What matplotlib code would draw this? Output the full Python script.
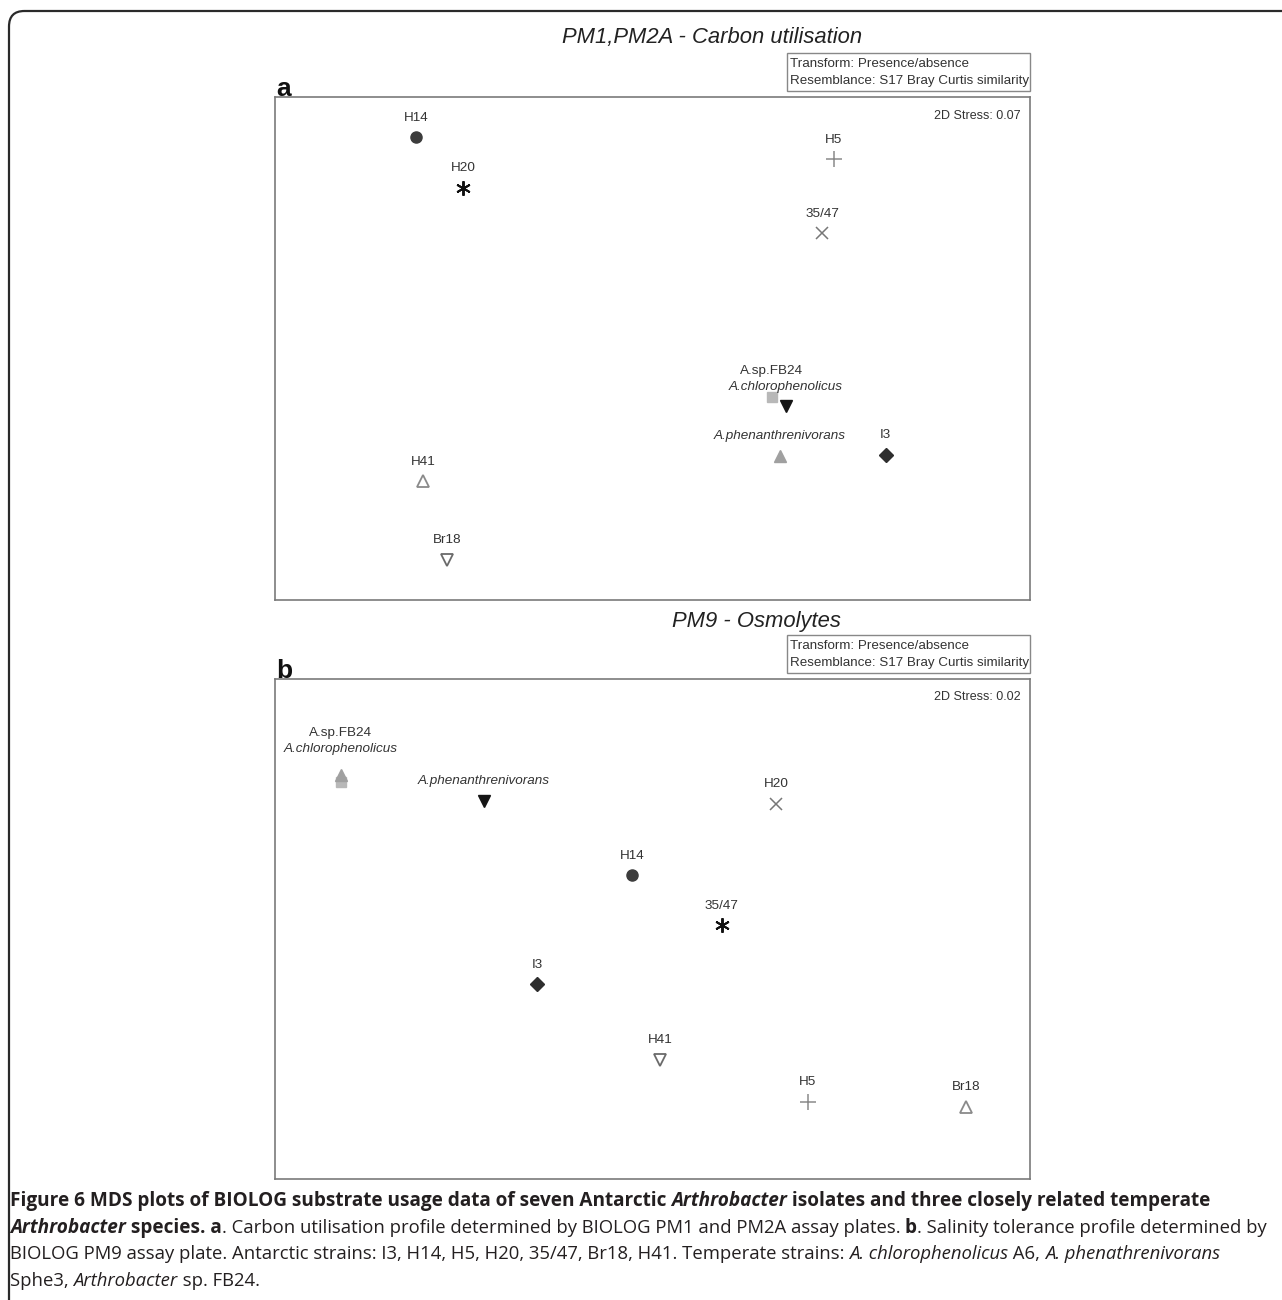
import matplotlib
matplotlib.use("Agg")
import matplotlib.pyplot as plt
from matplotlib.patches import FancyBboxPatch, Rectangle

W, H = 1282, 1300

# ---- data (MDS coordinates, axes span 0..100) ----
names_a = ["H14", "H20", "H5", "35/47", "A.sp.FB24", "A.chlorophenolicus",
           "A.phenanthrenivorans", "I3", "H41", "Br18"]
x_a = [18.7, 24.9, 74.0, 72.5, 65.8, 67.7, 66.9, 80.9, 19.6, 22.8]
y_a = [92.0, 82.0, 87.6, 72.9, 40.3, 38.5, 28.7, 28.9, 23.6, 8.0]
marks_a = ["circle", "asterisk", "plus", "cross", "square", "down",
           "up_grey", "diamond", "up_open", "down_open"]

names_b = ["A.sp.FB24", "A.chlorophenolicus", "A.phenanthrenivorans", "H20",
           "H14", "35/47", "I3", "H41", "H5", "Br18"]
x_b = [8.7, 8.7, 27.7, 66.4, 47.3, 59.2, 34.7, 51.0, 70.6, 91.5]
y_b = [79.4, 80.8, 75.7, 75.1, 60.8, 50.8, 39.0, 23.9, 15.5, 14.5]
marks_b = ["square", "up_grey", "down", "cross", "circle", "asterisk",
           "diamond", "down_open", "plus", "up_open"]

stress = ["2D Stress: 0.07", "2D Stress: 0.02"]
titles = ["PM1,PM2A - Carbon utilisation", "PM9 - Osmolytes"]
letters = ["a", "b"]

STYLES = {
    "circle":    dict(marker="o", ms=8, mfc="#3c3c3c", mec="#3c3c3c"),
    "asterisk":  dict(marker=(6, 2, 0), ms=10.5, mfc="#111", mec="#111", mew=1.4),
    "plus":      dict(marker="+", ms=12, mfc="#8a8a8a", mec="#8a8a8a", mew=1.1),
    "cross":     dict(marker="x", ms=8, mfc="#777", mec="#777", mew=1.1),
    "square":    dict(marker="s", ms=7, mfc="#b8b8b8", mec="#b8b8b8"),
    "down":      dict(marker="v", ms=9, mfc="#151515", mec="#151515"),
    "up_grey":   dict(marker="^", ms=9, mfc="#a0a0a0", mec="#a0a0a0"),
    "diamond":   dict(marker="D", ms=7.5, mfc="#2e2e2e", mec="#2e2e2e"),
    "up_open":   dict(marker="^", ms=9, mfc="white", mec="#8a8a8a", mew=1.3),
    "down_open": dict(marker="v", ms=9, mfc="white", mec="#6a6a6a", mew=1.3),
}

ITALIC = {"A.chlorophenolicus", "A.phenanthrenivorans"}

plt.rcParams["font.family"] = ["Liberation Sans", "DejaVu Sans"]
fig = plt.figure(figsize=(W / 100, H / 100), dpi=100)


def fx(px):
    return px / W


def fy(py):
    return 1 - py / H


# outer rounded frame (runs off the right and bottom edges)
frame = FancyBboxPatch((fx(9), fy(1330)), fx(1320), (1330 - 11) / H,
                       boxstyle="round,pad=0,rounding_size=0.012",
                       transform=fig.transFigure, fill=False,
                       ec="#2a2a2a", lw=1.6)
fig.patches.append(frame)


def panel(top, bottom, names, xs, ys, marks, offsets, title, title_x, title_y,
          letter, st, box_top, box_bot):
    ax = fig.add_axes([fx(275), fy(bottom), fx(1030) - fx(275),
                       (bottom - top) / H])
    ax.set_xlim(0, 100)
    ax.set_ylim(0, 100)
    ax.set_xticks([])
    ax.set_yticks([])
    for s in ax.spines.values():
        s.set_color("#7a7a7a")
        s.set_linewidth(1.2)
    for n, x, y, m in zip(names, xs, ys, marks):
        ax.plot([x], [y], ls="none", **STYLES[m])
        dy = offsets.get(n, 14)
        ax.annotate(n, (x, y), xytext=(0, dy), textcoords="offset points",
                    ha="center", va="center", fontsize=9.7,
                    color="#333", style="italic" if n in ITALIC else "normal")
    ax.text(0.987, 0.975, st, transform=ax.transAxes, ha="right", va="top",
            fontsize=9, color="#333")
    fig.text(fx(title_x), fy(title_y), title, ha="center", va="center",
             fontsize=15.8, style="italic", color="#222")
    fig.text(fx(276), fy(top - 1), letter, ha="left", va="baseline",
             fontsize=19, weight="bold", color="#111")
    fig.patches.append(Rectangle((fx(787), fy(box_bot)), fx(1030) - fx(787),
                                 (box_bot - box_top) / H,
                                 transform=fig.transFigure, fill=False,
                                 ec="#888", lw=1.0))
    h = box_bot - box_top
    fig.text(fx(790), fy(box_top + h * 0.28), "Transform: Presence/absence",
             ha="left", va="center", fontsize=9.6, color="#333")
    fig.text(fx(790), fy(box_top + h * 0.74),
             "Resemblance: S17 Bray Curtis similarity",
             ha="left", va="center", fontsize=9.6, color="#333")
    return ax


panel(97, 600, names_a, x_a, y_a, marks_a, {"A.sp.FB24": 19},
      titles[0], 712, 38, letters[0], stress[0], 53, 91)
panel(679, 1179, names_b, x_b, y_b, marks_b,
      {"A.sp.FB24": 35, "A.chlorophenolicus": 19},
      titles[1], 756, 622, letters[1], stress[1], 635, 673)

# ---- caption with mixed bold / italic runs ----
CAP_FONT = "Open Sans"
CAP_SIZE = {"normal": 13.3, "bold": 13.65}
cap_lines = [
    [("Figure 6 MDS plots of BIOLOG substrate usage data of seven Antarctic ", "bold", "normal"),
     ("Arthrobacter", "bold", "italic"),
     (" isolates and three closely related temperate", "bold", "normal")],
    [("Arthrobacter", "bold", "italic"), (" species. a", "bold", "normal"),
     (". Carbon utilisation profile determined by BIOLOG PM1 and PM2A assay plates. ", "normal", "normal"),
     ("b", "bold", "normal"),
     (". Salinity tolerance profile determined by", "normal", "normal")],
    [("BIOLOG PM9 assay plate. Antarctic strains: I3, H14, H5, H20, 35/47, Br18, H41. Temperate strains: ", "normal", "normal"),
     ("A. chlorophenolicus", "normal", "italic"), (" A6, ", "normal", "normal"),
     ("A. phenathrenivorans", "normal", "italic")],
    [("Sphe3, ", "normal", "normal"), ("Arthrobacter", "normal", "italic"),
     (" sp. FB24.", "normal", "normal")],
]
cap_y = [1201, 1228, 1254, 1281]

renderer = fig.canvas.get_renderer()
for runs, yy in zip(cap_lines, cap_y):
    x = 10
    for txt, wt, st in runs:
        t = fig.text(fx(x), fy(yy), txt, ha="left", va="center",
                     fontsize=CAP_SIZE[wt], family=CAP_FONT, weight=wt,
                     style=st, color="#231f20")
        bb = t.get_window_extent(renderer)
        x += bb.width

fig.savefig("out.png", dpi=100)
